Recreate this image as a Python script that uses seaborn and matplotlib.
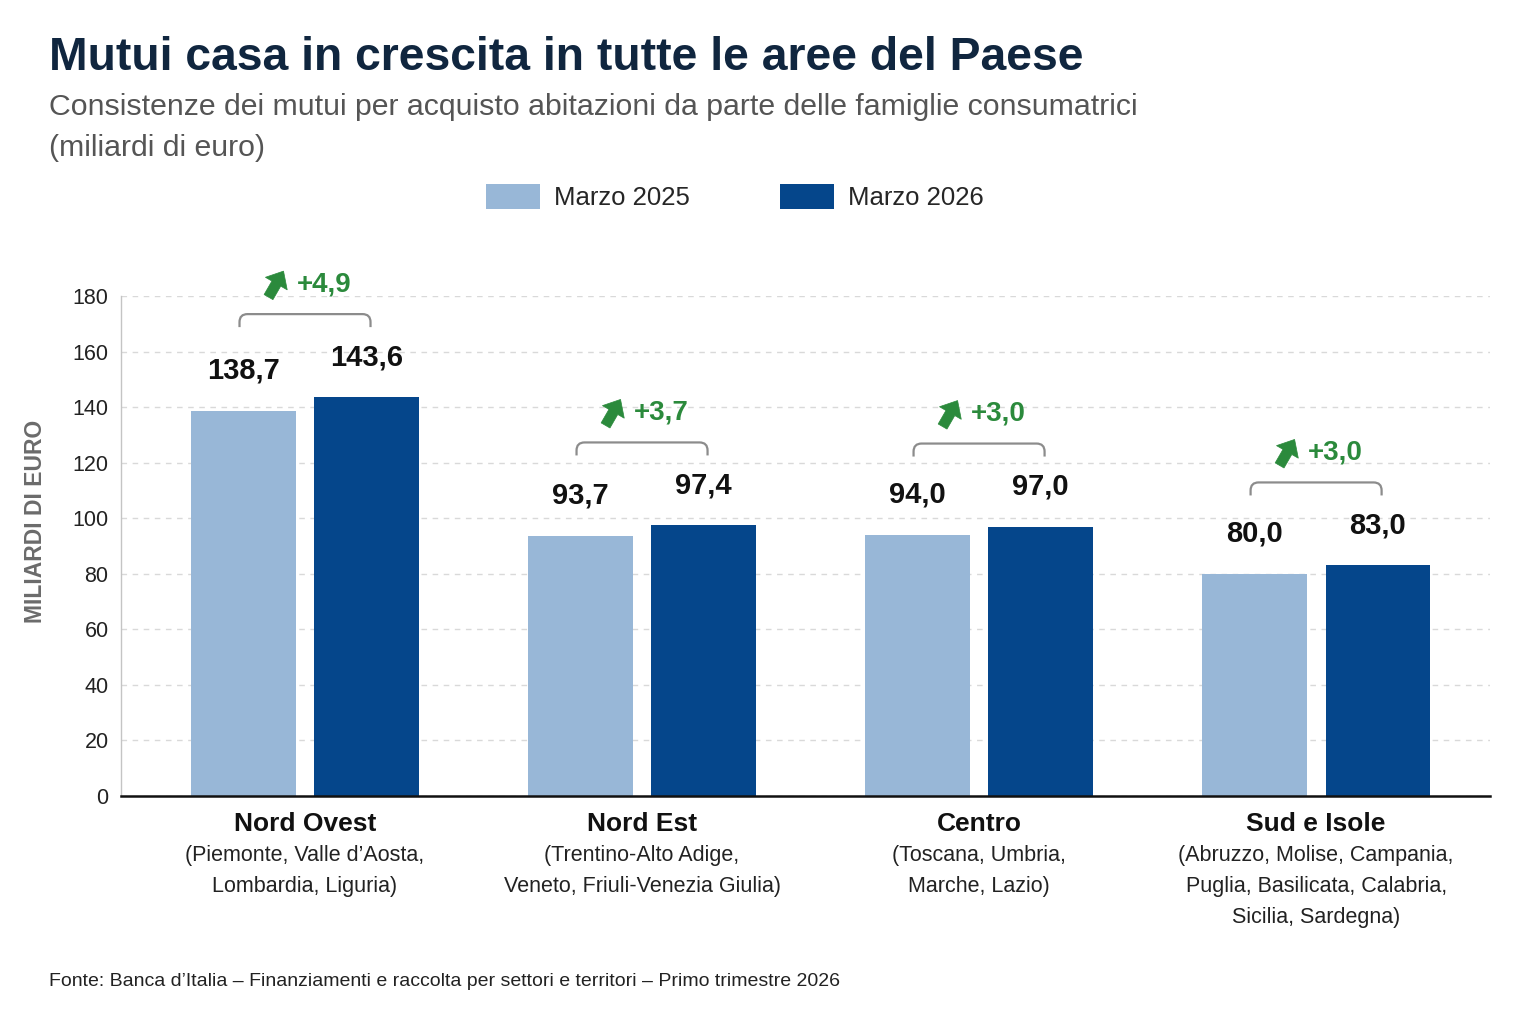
import numpy as np
import pandas as pd
import matplotlib
matplotlib.use('Agg')
import matplotlib.pyplot as plt
import seaborn as sns
from matplotlib.path import Path
from matplotlib.patches import PathPatch, Polygon, Patch
from matplotlib.transforms import IdentityTransform

# chart data
regions = ['Nord Ovest', 'Nord Est', 'Centro', 'Sud e Isole']
region_details = ['(Piemonte, Valle d\u2019Aosta,\nLombardia, Liguria)',
                  '(Trentino-Alto Adige,\nVeneto, Friuli-Venezia Giulia)',
                  '(Toscana, Umbria,\nMarche, Lazio)',
                  '(Abruzzo, Molise, Campania,\nPuglia, Basilicata, Calabria,\nSicilia, Sardegna)']
periods = ['Marzo 2025', 'Marzo 2026']
values_2025 = [138.7, 93.7, 94.0, 80.0]
values_2026 = [143.6, 97.4, 97.0, 83.0]
growth = [4.9, 3.7, 3.0, 3.0]
y_ticks = [0, 20, 40, 60, 80, 100, 120, 140, 160, 180]

# colours
light_blue = '#98b7d7'
dark_blue = '#05468b'
green = '#2b8a3c'
title_color = '#10263f'
gray_text = '#555555'


def fmt(v, sign=False):
    s = f'{v:+.1f}' if sign else f'{v:.1f}'
    return s.replace('.', ',')


def draw_arrow(fig, cx, cy, size, angle_deg, color):
    # block arrow pointing up, rotated clockwise by angle_deg
    shape = np.array([[-0.17, -0.5], [0.17, -0.5], [0.17, 0.02], [0.42, 0.02],
                      [0.0, 0.5], [-0.42, 0.02], [-0.17, 0.02]])
    th = np.deg2rad(angle_deg)
    rot = np.array([[np.cos(th), np.sin(th)], [-np.sin(th), np.cos(th)]])
    pts = (shape @ rot.T) * size + np.array([cx, cy])
    fig.add_artist(Polygon(pts, closed=True, transform=IdentityTransform(),
                           fc=color, ec=color, lw=0.5))


def draw_bracket(fig, x0, x1, yb, yt, r=8):
    verts = [(x0, yb), (x0, yt - r), (x0, yt), (x0 + r, yt), (x1 - r, yt),
             (x1, yt), (x1, yt - r), (x1, yb)]
    codes = [Path.MOVETO, Path.LINETO, Path.CURVE3, Path.CURVE3, Path.LINETO,
             Path.CURVE3, Path.CURVE3, Path.LINETO]
    fig.add_artist(PathPatch(Path(verts, codes), transform=IdentityTransform(),
                             fc='none', ec='#8c8c8c', lw=1.6))


# long form table for seaborn
df = pd.DataFrame({
    'Area': regions * 2,
    'Periodo': [periods[0]] * len(regions) + [periods[1]] * len(regions),
    'Valore': values_2025 + values_2026,
})

sns.set_style('white')
plt.rcParams['font.family'] = ['Liberation Sans', 'DejaVu Sans']

fig = plt.figure(figsize=(15.36, 10.24), dpi=100)
fig.patch.set_facecolor('white')
ax = fig.add_axes([121 / 1536, 1 - 796 / 1024, (1490 - 121) / 1536, 500 / 1024])

sns.barplot(data=df, x='Area', y='Valore', hue='Periodo', order=regions,
            hue_order=periods, palette=[light_blue, dark_blue], saturation=1,
            width=0.73, gap=0.153, linewidth=0, legend=False, ax=ax)

ax.set_xlim(-0.546, 3.516)
ax.set_ylim(0, 180)
ax.set_yticks(y_ticks)
ax.set_yticklabels([str(t) for t in y_ticks], fontsize=15.5, color='#222222')
ax.set_xticks(range(len(regions)))
ax.set_xticklabels(regions, fontsize=19, fontweight='bold', color='#111111')
ax.tick_params(axis='y', length=0, pad=9)
ax.tick_params(axis='x', length=0, pad=11.5)
ax.set_xlabel('')
ax.set_ylabel('')

# grid and spines
ax.yaxis.grid(True, color='#d9d9d9', linestyle=(0, (4, 4)), linewidth=1)
ax.xaxis.grid(False)
ax.set_axisbelow(True)
for side in ['top', 'right']:
    ax.spines[side].set_visible(False)
ax.spines['left'].set_color('#c4c4c4')
ax.spines['left'].set_linewidth(1)
ax.spines['bottom'].set_color('#111111')
ax.spines['bottom'].set_linewidth(1.8)

# region details under the names
for i, detail in enumerate(region_details):
    ax.annotate(detail, xy=(i, 0), xytext=(0, -49), textcoords='offset pixels',
                ha='center', va='top', fontsize=15.5, linespacing=1.64,
                color='#222222')

# value labels, brackets and growth
bars_a = ax.containers[0]
bars_b = ax.containers[1]
for i in range(len(regions)):
    tops = []
    centers = []
    for bar in [bars_a[i], bars_b[i]]:
        cx = bar.get_x() + bar.get_width() / 2
        h = bar.get_height()
        px, py = ax.transData.transform((cx, h))
        ly = py + 40
        fig.text(px, ly, fmt(h), transform=IdentityTransform(), ha='center',
                 va='center', fontsize=21, fontweight='bold', color='#111111')
        tops.append(ly)
        centers.append(px)
    yb = max(tops) + 30
    yt = yb + 13
    draw_bracket(fig, centers[0] - 4, centers[1] + 4, yb, yt)
    gx = (centers[0] + centers[1]) / 2
    gy = yt + 30
    fig.text(gx - 8, gy, fmt(growth[i], sign=True), transform=IdentityTransform(),
             ha='left', va='center', fontsize=20, fontweight='bold', color=green)
    draw_arrow(fig, gx - 29, gy, 30, 30, green)

# legend
handles = [Patch(facecolor=light_blue, edgecolor='none'),
           Patch(facecolor=dark_blue, edgecolor='none')]
fig.legend(handles, periods, loc='center', bbox_to_anchor=(735 / 1536, 1 - 197 / 1024),
           ncol=2, frameon=False, fontsize=18.5, handlelength=2.1, handleheight=1.1,
           handletextpad=0.55, columnspacing=3.5)

# titles and notes
fig.text(49 / 1536, 1 - 58 / 1024, 'Mutui casa in crescita in tutte le aree del Paese',
         ha='left', va='center', fontsize=33.3, fontweight='bold', color=title_color)
fig.text(49 / 1536, 1 - 107 / 1024,
         'Consistenze dei mutui per acquisto abitazioni da parte delle famiglie consumatrici',
         ha='left', va='center', fontsize=21.8, color=gray_text)
fig.text(49 / 1536, 1 - 148 / 1024, '(miliardi di euro)',
         ha='left', va='center', fontsize=21.8, color=gray_text)
fig.text(36 / 1536, 1 - 521 / 1024, 'MILIARDI DI EURO', rotation=90,
         ha='center', va='center', fontsize=16.5, fontweight='bold', color='#6b6b6b')
fig.text(49 / 1536, 1 - 982 / 1024,
         'Fonte: Banca d\u2019Italia \u2013 Finanziamenti e raccolta per settori e territori \u2013 Primo trimestre 2026',
         ha='left', va='center', fontsize=14, color='#222222')

fig.savefig('out.png', dpi=100, facecolor='white')
